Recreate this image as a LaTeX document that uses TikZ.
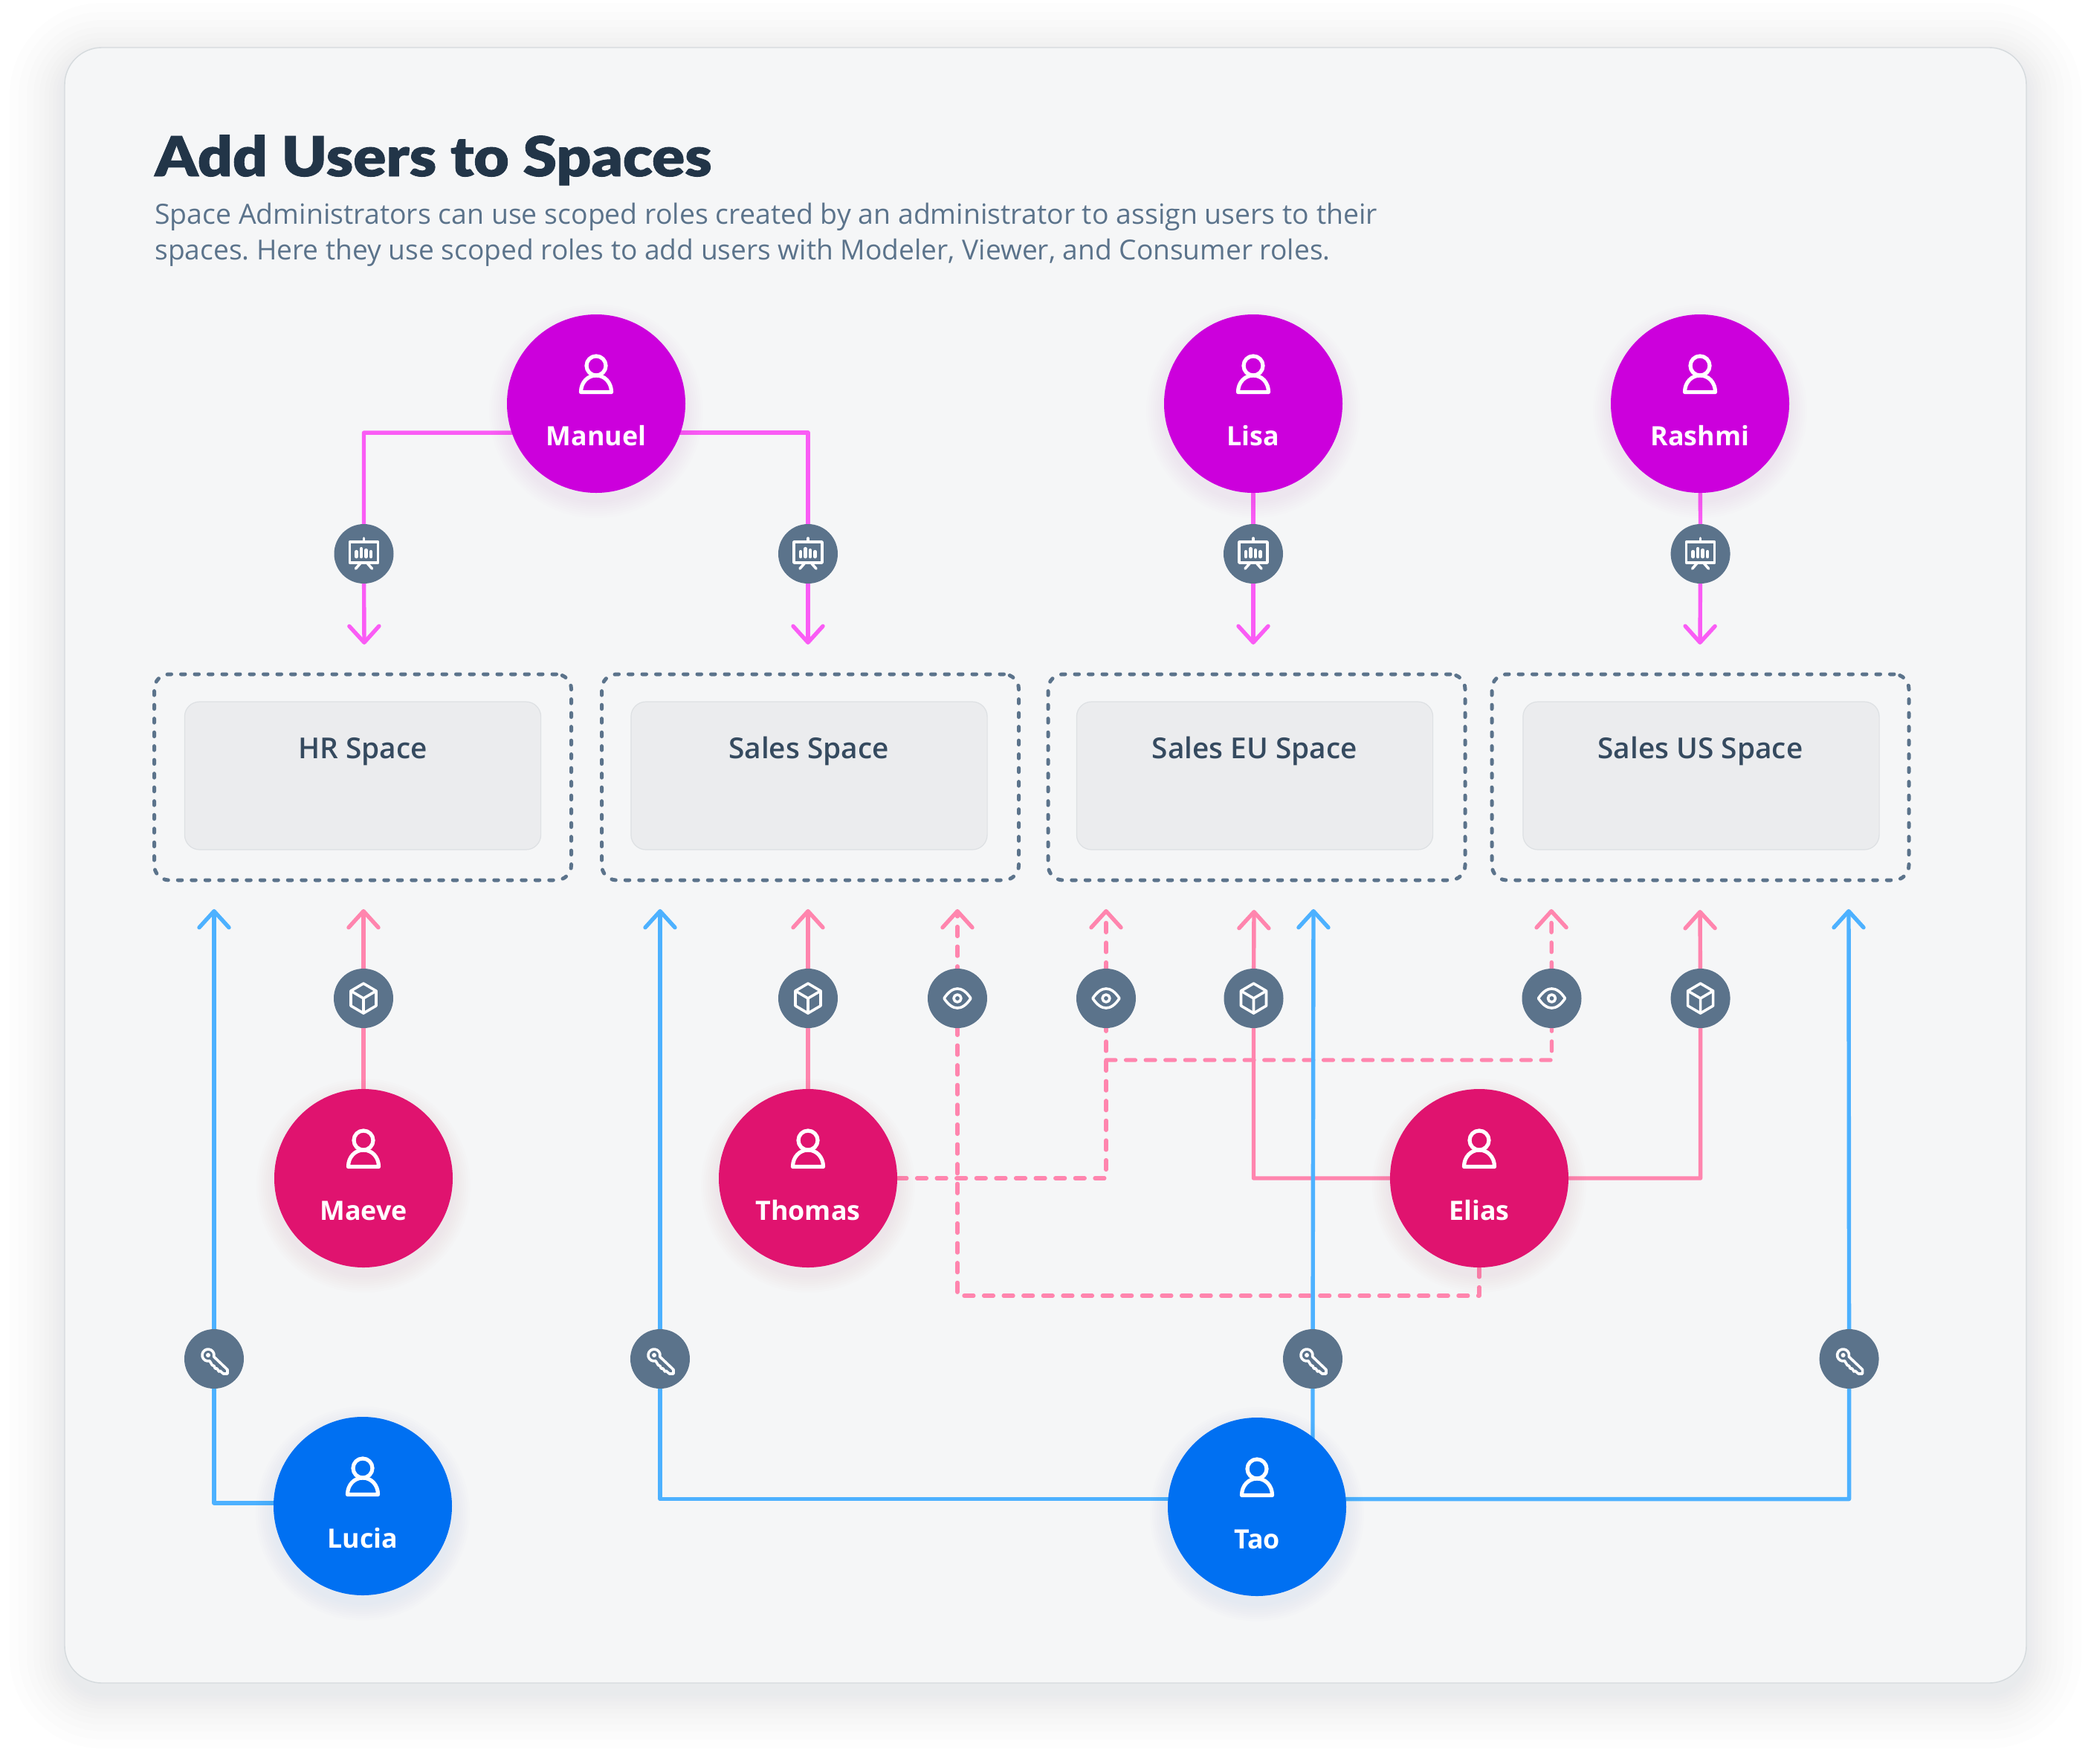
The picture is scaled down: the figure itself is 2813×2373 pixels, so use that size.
\documentclass[tikz,border=0pt]{standalone}
\usepackage{fontspec}
\usetikzlibrary{arrows.meta,calc}
\setmainfont{Open Sans}
\newfontfamily\titlef{Lato Black}[FakeStretch=1.107,FakeBold=1.2]
\newfontfamily\bodyf{Open Sans}
\newfontfamily\labf{Open Sans}
\newfontfamily\boxf{Open Sans Semibold}
\definecolor{pagebg}{HTML}{F5F6F7}
\definecolor{cardline}{HTML}{D5DADD}
\definecolor{cardshade}{HTML}{6A6E72}
\definecolor{inkdark}{HTML}{223548}
\definecolor{inkmid}{HTML}{5B738B}
\definecolor{inkbox}{HTML}{354A5F}
\definecolor{boxfill}{HTML}{EBECEE}
\definecolor{boxline}{HTML}{DDE0E3}
\definecolor{cmag}{HTML}{CC00DC}
\definecolor{cpink}{HTML}{E0136F}
\definecolor{cblue}{HTML}{0070F2}
\definecolor{lmag}{HTML}{FA5CF5}
\definecolor{lpink}{HTML}{FF85AE}
\definecolor{lblue}{HTML}{4DB1FF}
\pgfdeclarelayer{cardlayer}
\pgfdeclarelayer{shadowlayer}
\pgfdeclarelayer{linklayer}
\pgfsetlayers{cardlayer,linklayer,shadowlayer,main}
\tikzset{
  link/.style={line width=2.7pt,line join=round,line cap=round,
     -{Straight Barb[length=11pt,width=20pt,round,line width=2.7pt]}},
  dashlink/.style={link,dash pattern=on 6.4pt off 6.9pt},
  magl/.style={link,draw=lmag},
  pinkl/.style={link,draw=lpink},
  pinkd/.style={dashlink,draw=lpink},
  bluel/.style={link,draw=lblue},
  personc/.style={circle,fill=#1,minimum size=120pt,inner sep=0pt,outer sep=0pt},
  plabel/.style={anchor=base,inner sep=0pt,text=white,font=\labf\bfseries\fontsize{17.9}{17.9}\selectfont},
  badge/.style={circle,fill=inkmid,minimum size=40pt,inner sep=0pt,outer sep=0pt},
  glyph/.style={draw=white,line width=1.8pt,line join=round,line cap=round},
  pglyph/.style={draw=white,line width=2.6pt,line join=round,line cap=round},
  outerbox/.style={draw=inkmid,line width=2.5pt,line cap=round,dash pattern=on 2.75pt off 6.5pt,
     rounded corners=10pt,minimum width=280.5pt,minimum height=138.5pt,inner sep=0pt,outer sep=0pt},
  innerbox/.style={draw=boxline,line width=0.6pt,fill=boxfill,rounded corners=10pt,
     minimum width=239.6pt,minimum height=99.5pt,inner sep=0pt,outer sep=0pt},
  boxlabel/.style={anchor=base,inner sep=0pt,text=inkbox,font=\boxf\fontsize{19.4}{19.4}\selectfont},
}
\newcommand{\person}[6]{% name x y colour label
  \begin{pgfonlayer}{shadowlayer}
    \foreach \s in {24,21,...,2} {\fill[#4,opacity=0.008] (#2,#3+10) circle [radius=120+\s];}
  \end{pgfonlayer}
  \node[personc=#4] (#1) at (#2,#3) {};
  \node[plabel] (#1Label) at (#2,#3+56) {#5};
  \begin{scope}[shift={(#1.center)}]
    \draw[pglyph] (0,-51) circle [radius=13];
    \draw[pglyph] (-20.5,-15.5) .. controls (-20.5,-29) and (-11,-38) .. (0,-38) .. controls (11,-38) and (20.5,-29) .. (20.5,-15.5) -- cycle;
  \end{scope}
}
\newcommand{\presicon}[1]{\begin{scope}[shift={(#1.center)}]
  \draw[glyph] (-19,-16) rectangle (19,12);
  \draw[glyph] (0,-21) -- (0,-16);
  \draw[glyph] (-4,12) -- (-11,20) (4,12) -- (11,20);
  \draw[glyph,line width=2.2pt] (-10,4) -- (-10,-3) (-3.5,4) -- (-3.5,-7) (3,4) -- (3,-5) (9.5,4) -- (9.5,-3);
\end{scope}}
\newcommand{\cubeicon}[1]{\begin{scope}[shift={(#1.center)}]
  \draw[glyph] (0,-20) -- (17,-10) -- (17,10) -- (0,20) -- (-17,10) -- (-17,-10) -- cycle;
  \draw[glyph] (-17,-10) -- (0,0) -- (17,-10) (0,0) -- (0,20);
\end{scope}}
\newcommand{\eyeicon}[1]{\begin{scope}[shift={(#1.center)}]
  \draw[glyph] (-18,0) .. controls (-12,-9) and (-6,-13) .. (0,-13) .. controls (6,-13) and (12,-9) .. (18,0) .. controls (12,9) and (6,13) .. (0,13) .. controls (-6,13) and (-12,9) .. (-18,0) -- cycle;
  \draw[glyph] (0,0) circle [radius=5];
\end{scope}}
\newcommand{\keyicon}[1]{\begin{scope}[shift={(#1.center)}]
  \draw[glyph] (-5.93,2.73) .. controls (-10.2,3.87) and (-14.59,1.34) .. (-15.73,-2.93)
     .. controls (-16.87,-7.2) and (-14.34,-11.59) .. (-10.07,-12.73)
     .. controls (-5.8,-13.87) and (-1.41,-11.34) .. (-0.27,-7.07)
     .. controls (0.09,-5.71) and (0.09,-4.29) .. (-0.27,-2.93)
     -- (18,14.5) -- (18,20) -- (12.5,20) -- (8,16) -- (6.5,17) -- (4,13) -- (1.5,13) -- (0,9.5) -- (-2.5,8.5) -- cycle;
  \fill[white] (-8,-5) circle [radius=3];
\end{scope}}
\begin{document}
\begin{tikzpicture}[x=0.5pt,y=-0.5pt]
\useasboundingbox (0,0) rectangle (2813,2373);
\begin{pgfonlayer}{cardlayer}
  \fill[white] (0,0) rectangle (2813,2373);
  \foreach \s in {74,62,51,42,34,27,21,16,11,7,3} {\fill[cardshade,opacity=0.007,rounded corners=25pt+\s*0.5pt] (87-\s,64-\s+14) rectangle (2726+\s,2264+\s+14);}
  \draw[draw=cardline,line width=0.7pt,fill=pagebg,rounded corners=25pt] (87,64) rectangle (2726,2264);
\end{pgfonlayer}
\node[anchor=base west,inner sep=0pt,text=inkdark,font=\titlef\fontsize{37}{37}\selectfont] (title) at (208,237) {Add Users to Spaces};
\node[anchor=base west,inner sep=0pt,text=inkmid,font=\bodyf\fontsize{18.72}{18.72}\selectfont\frenchspacing] (subone) at (208,301) {Space Administrators can use scoped roles created by an administrator to assign users to their};
\node[anchor=base west,inner sep=0pt,text=inkmid,font=\bodyf\fontsize{18.57}{18.57}\selectfont\frenchspacing] (subtwo) at (208,349) {spaces. Here they use scoped roles to add users with Modeler, Viewer, and Consumer roles.};
% spaces
\node[outerbox] (hrOuter) at (488,1045.5) {};
\node[outerbox] (salesOuter) at (1090,1045.5) {};
\node[outerbox] (euOuter) at (1690.5,1045.5) {};
\node[outerbox] (usOuter) at (2287.5,1045.5) {};
\node[innerbox] (hrInner) at (488,1043.5) {};
\node[innerbox] (salesInner) at (1088.5,1043.5) {};
\node[innerbox] (euInner) at (1688,1043.5) {};
\node[innerbox] (usInner) at (2288.5,1043.5) {};
\node[boxlabel] (hrLabel) at (488,1020.5) {HR Space};
\node[boxlabel] (salesLabel) at (1088,1020.5) {Sales Space};
\node[boxlabel] (euLabel) at (1688,1020.5) {Sales EU Space};
\node[boxlabel] (usLabel) at (2287.5,1020.5) {Sales US Space};
% people
\person{Manuel}{802}{543}{cmag}{Manuel}{}
\person{Lisa}{1686}{543}{cmag}{Lisa}{}
\person{Rashmi}{2287}{543}{cmag}{Rashmi}{}
\person{Maeve}{489}{1585}{cpink}{Maeve}{}
\person{Thomas}{1087}{1585}{cpink}{Thomas}{}
\person{Elias}{1990}{1585}{cpink}{Elias}{}
\person{Lucia}{488}{2026}{cblue}{Lucia}{}
\person{Tao}{1691}{2027}{cblue}{Tao}{}
% badges
\node[badge] (presA) at (489.5,745) {};
\node[badge] (presB) at (1087,745) {};
\node[badge] (presC) at (1686,745) {};
\node[badge] (presD) at (2287.6,745) {};
\node[badge] (cubeA) at (489,1343) {};
\node[badge] (cubeB) at (1087,1343) {};
\node[badge] (eyeA) at (1288,1343) {};
\node[badge] (eyeB) at (1488,1343) {};
\node[badge] (cubeC) at (1686.5,1343) {};
\node[badge] (eyeC) at (2087.5,1343) {};
\node[badge] (cubeD) at (2287.6,1343) {};
\node[badge] (keyA) at (288,1828) {};
\node[badge] (keyB) at (888,1828) {};
\node[badge] (keyC) at (1766,1828) {};
\node[badge] (keyD) at (2487.6,1828) {};
\presicon{presA}\presicon{presB}\presicon{presC}\presicon{presD}
\cubeicon{cubeA}\cubeicon{cubeB}\cubeicon{cubeC}\cubeicon{cubeD}
\eyeicon{eyeA}\eyeicon{eyeB}\eyeicon{eyeC}
\keyicon{keyA}\keyicon{keyB}\keyicon{keyC}\keyicon{keyD}
% free ends
\coordinate (tipPA) at (490,867);
\coordinate (tipPB) at (1087,867);
\coordinate (tipPC) at (1686,867);
\coordinate (tipPD) at (2287,867);
\coordinate (tipCA) at (489,1223);
\coordinate (tipCB) at (1087,1223);
\coordinate (tipEA) at (1288,1223);
\coordinate (tipEB) at (1488,1223);
\coordinate (tipCC) at (1687,1224);
\coordinate (tipEC) at (2087,1223);
\coordinate (tipCD) at (2287,1224);
\coordinate (tipKA) at (288,1223);
\coordinate (tipKB) at (888,1223);
\coordinate (tipKC) at (1767,1223);
\coordinate (tipKD) at (2487,1223);
\coordinate (eliasDrop) at (1990,1743);
\coordinate (viewBranch) at (1488,1426);
\begin{pgfonlayer}{linklayer}
  \draw[magl] (Manuel.199.8) -| (presA.center) -- (tipPA);
  \draw[magl] (Manuel.-19.8) -| (presB.center) -- (tipPB);
  \draw[magl] (Lisa.center) -- (presC.center) -- (tipPC);
  \draw[magl] (Rashmi.center) -- (presD.center) -- (tipPD);
  \draw[pinkl] (Maeve.center) -- (cubeA.center) -- (tipCA);
  \draw[pinkl] (Thomas.center) -- (cubeB.center) -- (tipCB);
  \draw[pinkl] (Elias.center) -| (cubeC.center) -- (tipCC);
  \draw[pinkl] (Elias.center) -| (cubeD.center) -- (tipCD);
  \draw[pinkd] (Elias.south) -- (eliasDrop) -| (eyeA.center) -- (tipEA);
  \draw[pinkd] (Thomas.east) -| (eyeB.center) -- (tipEB);
  \draw[pinkd] (viewBranch) -| (eyeC.center) -- (tipEC);
  \draw[bluel] (Lucia.178.7) -| (keyA.center) -- (tipKA);
  \draw[bluel] (Tao.175) -| (keyB.center) -- (tipKB);
  \draw[bluel] (Tao.center -| keyC.center) -- (keyC.center) -- (tipKC);
  \draw[bluel] (Tao.5) -| (keyD.center) -- (tipKD);
\end{pgfonlayer}
\end{tikzpicture}
\end{document}
